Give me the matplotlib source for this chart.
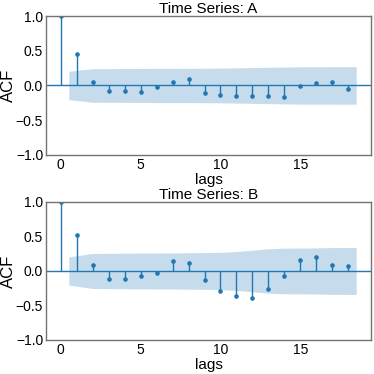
import numpy as np
import matplotlib.pyplot as plt

plt.rcParams['font.family'] = ['Liberation Sans', 'DejaVu Sans']

# autocorrelation values (lags 0..18)
lags = np.arange(19)
acf_a = [1.0, 0.45, 0.057, -0.086, -0.077, -0.10, -0.024, 0.053, 0.09, -0.105,
         -0.144, -0.158, -0.158, -0.148, -0.163, -0.005, 0.033, 0.043, -0.057]
acf_b = [1.0, 0.524, 0.087, -0.12, -0.12, -0.067, -0.024, 0.144, 0.12, -0.135,
         -0.293, -0.36, -0.394, -0.264, -0.067, 0.159, 0.20, 0.082, 0.072]
titles = ['Time Series: A', 'Time Series: B']
n_obs = 92  # sample size, sets the width of the 95% band


def bartlett_band(acf, n):
    acf = np.asarray(acf)
    var = np.ones(len(acf)) / n
    var[0] = 0
    var[2:] *= 1 + 2 * np.cumsum(acf[1:-1] ** 2)
    return 1.96 * np.sqrt(var)


def plot_acf(ax, acf, title):
    ax.vlines(lags, 0, acf, color='C0', lw=1)
    ax.axhline(0, color='C0', lw=1)
    ax.plot(lags, acf, 'o', color='C0', markersize=2.3)
    band = bartlett_band(acf, n_obs)[1:]
    x = lags[1:].astype(float)
    x[0] -= 0.5
    x[-1] += 0.5
    ax.fill_between(x, -band, band, color='C0', alpha=0.25, lw=0)
    ax.set_ylim(-1, 1)
    ax.set_title(title, fontsize=11, pad=2)
    ax.set_xlabel('lags', fontsize=11, labelpad=1)
    ax.set_ylabel('ACF', fontsize=12, labelpad=0)
    ax.tick_params(length=0, labelsize=10, pad=2)
    for s in ax.spines.values():
        s.set_color('0.45')
        s.set_linewidth(1)


fig = plt.figure(figsize=(3.74, 3.74), dpi=100)
ax1 = fig.add_axes([0.123, 0.586, 0.869, 0.371])
ax2 = fig.add_axes([0.123, 0.091, 0.869, 0.369])
plot_acf(ax1, acf_a, titles[0])
plot_acf(ax2, acf_b, titles[1])

fig.savefig('out.png')
